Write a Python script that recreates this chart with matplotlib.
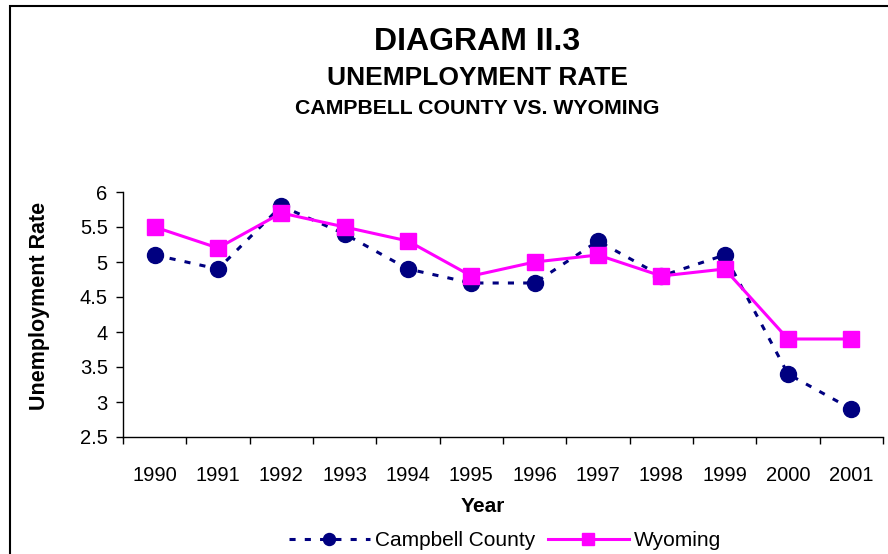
import matplotlib.pyplot as plt
from matplotlib.patches import Rectangle

plt.rcParams['font.family'] = ['Liberation Sans', 'DejaVu Sans']

years = ['1990', '1991', '1992', '1993', '1994', '1995', '1996', '1997', '1998', '1999', '2000', '2001']
campbell = [5.1, 4.9, 5.8, 5.4, 4.9, 4.7, 4.7, 5.3, 4.8, 5.1, 3.4, 2.9]
wyoming = [5.5, 5.2, 5.7, 5.5, 5.3, 4.8, 5.0, 5.1, 4.8, 4.9, 3.9, 3.9]
y_ticks = [2.5, 3, 3.5, 4, 4.5, 5, 5.5, 6]

W, H = 888, 554
fig = plt.figure(figsize=(W / 100, H / 100), dpi=100)

# cadre autour du graphique (coupé à droite et en bas)
fig.patches.append(Rectangle((10 / W, -0.1), 1.2, 1 - 6 / H + 0.1, transform=fig.transFigure,
                             fill=False, edgecolor='black', linewidth=1.5))

ax = fig.add_axes([123 / W, 1 - 437 / H, (883 - 123) / W, (437 - 192) / H])

x = list(range(len(years)))
ax.plot(x, campbell, color='#000080', linestyle=(0, (2, 3)), linewidth=2.2,
        marker='o', markersize=11.5, label='Campbell County')
ax.plot(x, wyoming, color='#FF00FF', linestyle='solid', linewidth=2.2,
        marker='s', markersize=11.5, label='Wyoming')

ax.set_xlim(-0.5, len(years) - 0.5)
ax.set_ylim(2.5, 6)
ax.set_yticks(y_ticks)
ax.set_yticklabels(['2.5', '3', '3.5', '4', '4.5', '5', '5.5', '6'])
ax.set_xticks(x)
ax.set_xticklabels(years)
ax.set_xticks([i - 0.5 for i in range(len(years) + 1)], minor=True)
ax.tick_params(axis='x', which='major', length=0, pad=21, labelsize=14.5)
ax.tick_params(axis='x', which='minor', length=5, width=1, direction='out')
ax.tick_params(axis='y', length=5, width=1, labelsize=14.5, pad=6)

for s in ['top', 'right']:
    ax.spines[s].set_visible(False)
for s in ['left', 'bottom']:
    ax.spines[s].set_linewidth(1)

fig.text(477 / W, 1 - 42 / H, 'DIAGRAM II.3', ha='center', va='center', fontsize=23, fontweight='bold')
fig.text(477 / W, 1 - 78 / H, 'UNEMPLOYMENT RATE', ha='center', va='center', fontsize=19, fontweight='bold')
fig.text(477 / W, 1 - 109 / H, 'CAMPBELL COUNTY VS. WYOMING', ha='center', va='center', fontsize=15.3, fontweight='bold')

fig.text(40 / W, 1 - 306 / H, 'Unemployment Rate', ha='center', va='center', rotation=90,
         fontsize=15.5, fontweight='bold')
fig.text(483 / W, 1 - 506 / H, 'Year', ha='center', va='center', fontsize=15, fontweight='bold')

fig.legend(loc='center', bbox_to_anchor=(505 / W, 1 - 541 / H), ncol=2, frameon=False,
           fontsize=15, handlelength=3.9, columnspacing=0.6, handletextpad=0.25,
           markerscale=0.75, borderaxespad=0, borderpad=0)

fig.savefig('out.png', dpi=100)
